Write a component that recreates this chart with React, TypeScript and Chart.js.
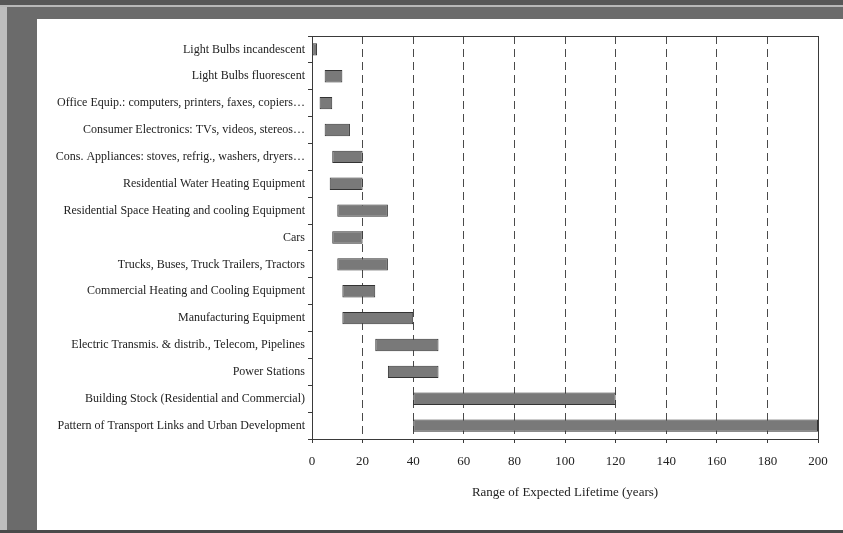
import React, { useEffect, useRef } from "react";
import { Chart, registerables } from "chart.js";

Chart.register(...registerables);

const categories = [
  "Light Bulbs incandescent",
  "Light Bulbs fluorescent",
  "Office Equip.: computers, printers, faxes, copiers…",
  "Consumer Electronics: TVs, videos, stereos…",
  "Cons. Appliances: stoves, refrig., washers, dryers…",
  "Residential Water Heating Equipment",
  "Residential Space Heating and cooling Equipment",
  "Cars",
  "Trucks, Buses, Truck Trailers, Tractors",
  "Commercial Heating and Cooling Equipment",
  "Manufacturing Equipment",
  "Electric Transmis. & distrib., Telecom, Pipelines",
  "Power Stations",
  "Building Stock (Residential and Commercial)",
  "Pattern of Transport Links and Urban Development",
];

const lifetimeStart = [0, 5, 3, 5, 8, 7, 10, 8, 10, 12, 12, 25, 30, 40, 40];
const lifetimeEnd = [2, 12, 8, 15, 20, 20, 30, 20, 30, 25, 40, 50, 50, 120, 200];

const xTicks = [0, 20, 40, 60, 80, 100, 120, 140, 160, 180, 200];
const xTitle = "Range of Expected Lifetime (years)";

const FONT = "'Liberation Serif', 'DejaVu Serif', serif";

const boxPlugin = {
  id: "plotBox",
  afterDraw(chart: any) {
    const { ctx, chartArea } = chart;
    ctx.save();
    ctx.strokeStyle = "#3a3a3a";
    ctx.lineWidth = 1;
    ctx.setLineDash([]);
    ctx.strokeRect(
      Math.round(chartArea.left) + 0.5,
      Math.round(chartArea.top) + 0.5,
      Math.round(chartArea.right - chartArea.left),
      Math.round(chartArea.bottom - chartArea.top)
    );
    ctx.restore();
  },
};

export default function App() {
  const canvasRef = useRef<HTMLCanvasElement | null>(null);

  useEffect(() => {
    if (!canvasRef.current) return;
    const data = categories.map((_, i) => [lifetimeStart[i], lifetimeEnd[i]]);
    const chart = new Chart(canvasRef.current, {
      type: "bar",
      data: {
        labels: categories,
        datasets: [
          {
            data: data as any,
            backgroundColor: "#797979",
            borderColor: "#333333",
            borderWidth: 1,
            borderSkipped: false,
            barPercentage: 0.46,
            categoryPercentage: 1,
          },
        ],
      },
      options: {
        indexAxis: "y",
        animation: false,
        responsive: false,
        maintainAspectRatio: false,
        layout: { padding: { left: 0, right: 25, top: 17, bottom: 0 } },
        plugins: {
          legend: { display: false },
          tooltip: { enabled: false },
          title: { display: false },
        },
        scales: {
          x: {
            type: "linear",
            position: "bottom",
            min: 0,
            max: 200,
            afterBuildTicks: (scale: any) => {
              scale.ticks = xTicks.map((v) => ({ value: v }));
            },
            afterFit: (scale: any) => {
              scale.height = 91;
            },
            grid: {
              display: true,
              drawOnChartArea: true,
              drawTicks: true,
              tickLength: 4,
              lineWidth: 1,
              color: (ctx: any) =>
                ctx.tick && (ctx.tick.value === 0 || ctx.tick.value === 200)
                  ? "rgba(0,0,0,0)"
                  : "#4a4a4a",
              tickColor: "#3a3a3a",
              tickBorderDash: [],
            },
            border: { display: true, color: "#3a3a3a", width: 1, dash: [8, 5] },
            ticks: {
              padding: 11,
              color: "#222",
              font: { family: FONT, size: 13 },
              maxRotation: 0,
              autoSkip: false,
            },
            title: {
              display: true,
              text: xTitle,
              color: "#222",
              font: { family: FONT, size: 13 },
              padding: { top: 14, bottom: 30 },
            },
          },
          y: {
            type: "category",
            afterFit: (scale: any) => {
              scale.width = 275;
            },
            grid: {
              display: true,
              drawOnChartArea: false,
              drawTicks: true,
              tickLength: 4,
              offset: true,
              color: "#3a3a3a",
              tickColor: "#3a3a3a",
            },
            border: { display: true, color: "#3a3a3a", width: 1 },
            ticks: {
              padding: 3,
              color: "#222",
              font: { family: FONT, size: 12 },
              autoSkip: false,
            },
          },
        },
      },
      plugins: [boxPlugin],
    });
    return () => chart.destroy();
  }, []);

  return (
    <div
      style={{
        position: "fixed",
        left: 0,
        top: 0,
        width: 843,
        height: 533,
        background: "#6b6b6b",
        overflow: "hidden",
      }}
    >
      <div style={{ position: "absolute", left: 0, top: 0, width: 843, height: 5, background: "#575757" }} />
      <div style={{ position: "absolute", left: 0, top: 5, width: 843, height: 2, background: "#b8b8b8" }} />
      <div style={{ position: "absolute", left: 0, top: 7, width: 7, height: 526, background: "#bdbdbd" }} />
      <div style={{ position: "absolute", left: 0, top: 530, width: 843, height: 3, background: "#4a4a4a" }} />
      <div
        style={{
          position: "absolute",
          left: 37,
          top: 19,
          width: 806,
          height: 511,
          background: "#ffffff",
        }}
      >
        <canvas ref={canvasRef} width={806} height={511} style={{ display: "block", width: 806, height: 511 }} />
      </div>
    </div>
  );
}
